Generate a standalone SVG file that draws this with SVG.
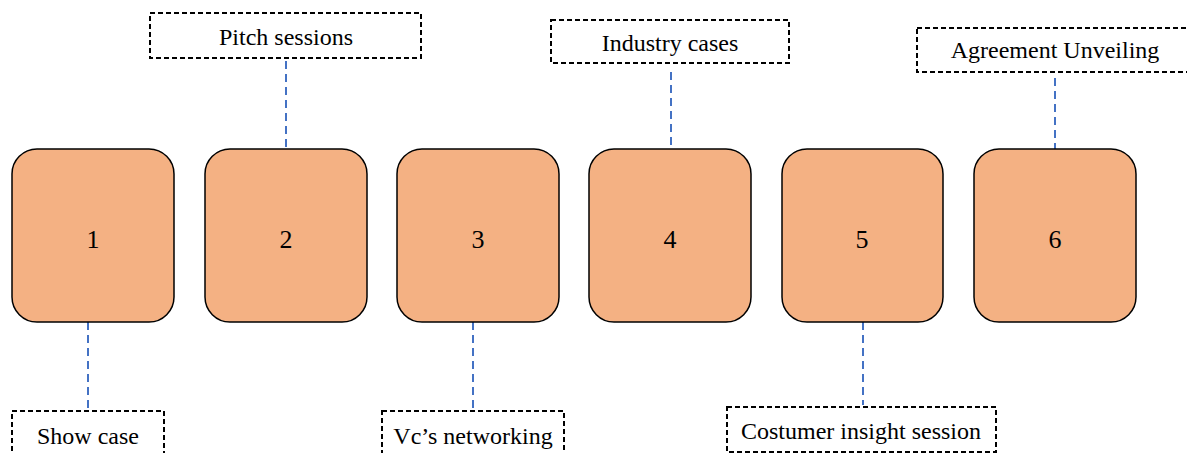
<svg xmlns="http://www.w3.org/2000/svg" width="1187" height="453" viewBox="0 0 1187 453">
<style>
.step{fill:#F4B183;stroke:#000;stroke-width:1.5}
.num{font-family:"Liberation Serif","Times New Roman",serif;font-size:26px;fill:#000;text-anchor:middle}
.lbl{fill:#fff;stroke:#000;stroke-width:2;stroke-dasharray:5 3}
.txt{font-family:"Liberation Serif","Times New Roman",serif;font-size:24px;fill:#000;text-anchor:middle}
.con{stroke:#4472C4;stroke-width:2;stroke-dasharray:8 5;fill:none}
</style>
<rect width="1187" height="453" fill="#fff"/>
<g id="connectors">
<line class="con" x1="286" y1="61" x2="286" y2="149"/>
<line class="con" x1="671" y1="72" x2="671" y2="148"/>
<line class="con" x1="1055" y1="78" x2="1055" y2="149"/>
<line class="con" x1="88" y1="322" x2="88" y2="408"/>
<line class="con" x1="473" y1="322" x2="473" y2="410"/>
<line class="con" x1="863" y1="322" x2="863" y2="405"/>
</g>
<g id="node1"><rect class="step" x="12" y="149" width="162" height="173" rx="25"/><text class="num" x="93" y="248">1</text></g>
<g id="node2"><rect class="step" x="205" y="149" width="162" height="173" rx="25"/><text class="num" x="286" y="248">2</text></g>
<g id="node3"><rect class="step" x="397" y="149" width="162" height="173" rx="25"/><text class="num" x="478" y="248">3</text></g>
<g id="node4"><rect class="step" x="589" y="149" width="162" height="173" rx="25"/><text class="num" x="670" y="248">4</text></g>
<g id="node5"><rect class="step" x="782" y="149" width="161" height="173" rx="25"/><text class="num" x="862" y="248">5</text></g>
<g id="node6"><rect class="step" x="974" y="149" width="162" height="173" rx="25"/><text class="num" x="1055" y="248">6</text></g>
<g id="label-pitch"><rect class="lbl" x="150" y="13" width="271" height="45"/><text class="txt" x="286" y="45">Pitch sessions</text></g>
<g id="label-industry"><rect class="lbl" x="551" y="20" width="238" height="43"/><text class="txt" x="670" y="51">Industry cases</text></g>
<g id="label-agreement"><rect class="lbl" x="917" y="28" width="275" height="44"/><text class="txt" x="1055" y="58">Agreement Unveiling</text></g>
<g id="label-show"><rect class="lbl" x="12" y="411" width="152" height="60"/><text class="txt" x="88" y="444">Show case</text></g>
<g id="label-vc"><rect class="lbl" x="382" y="411" width="182" height="60"/><text class="txt" x="473" y="444">Vc’s networking</text></g>
<g id="label-costumer"><rect class="lbl" x="727" y="407" width="269" height="45"/><text class="txt" x="861" y="439">Costumer insight session</text></g>
</svg>
